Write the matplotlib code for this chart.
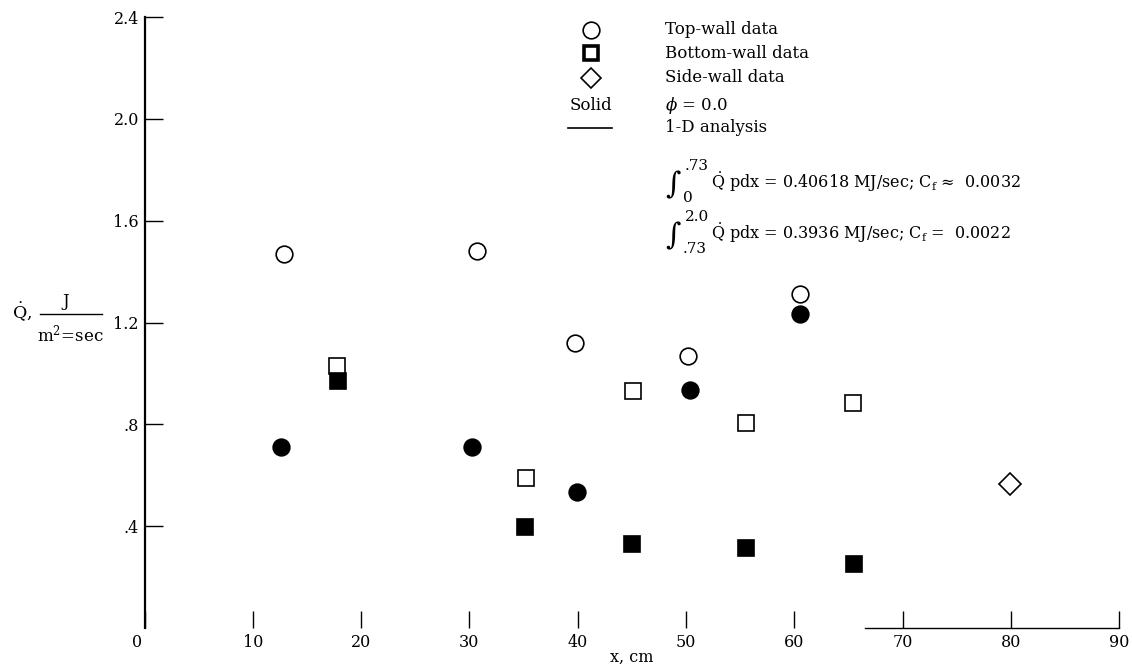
import matplotlib
matplotlib.use("Agg")
import matplotlib.pyplot as plt
from matplotlib.lines import Line2D
from matplotlib.transforms import ScaledTranslation

# ---------------- data ----------------
top_x = [12.9, 30.7, 39.75, 50.2, 60.5]
top_y = [1.47, 1.48, 1.12, 1.07, 1.31]
top_solid_x = [12.6, 30.2, 39.9, 50.4, 60.5]
top_solid_y = [0.71, 0.71, 0.535, 0.935, 1.235]
bot_x = [17.8, 35.2, 45.1, 55.5, 65.4]
bot_y = [1.03, 0.59, 0.93, 0.805, 0.885]
bot_solid_x = [17.9, 35.1, 45.0, 55.5, 65.5]
bot_solid_y = [0.97, 0.395, 0.33, 0.315, 0.25]
side_x = [79.9]
side_y = [0.565]

xticks = [0, 10, 20, 30, 40, 50, 60, 70, 80, 90]
xtick_labels = ["0", "10", "20", "30", "40", "50", "60", "70", "80", "90"]
yticks = [0.4, 0.8, 1.2, 1.6, 2.0, 2.4]
ytick_labels = [".4", ".8", "1.2", "1.6", "2.0", "2.4"]

legend_labels = ["Top-wall data", "Bottom-wall data", "Side-wall data",
                 r"$\phi$ = 0.0", "1-D analysis"]
int1_upper, int1_lower = ".73", "0"
int1_body = r"$\dot{\mathrm{Q}}$ pdx = 0.40618 MJ/sec; C$_\mathrm{f}$ ≈  0.0032"
int2_upper, int2_lower = "2.0", ".73"
int2_body = r"$\dot{\mathrm{Q}}$ pdx = 0.3936 MJ/sec; C$_\mathrm{f}$ =  0.0022"

# ---------------- style ----------------
plt.rcParams['font.family'] = ['DejaVu Serif']
plt.rcParams['mathtext.fontset'] = 'dejavuserif'

W, H = 1132, 666
fig = plt.figure(figsize=(W / 100, H / 100), dpi=100)
ax = fig.add_axes([144.5 / W, 38 / H, 974.8 / W, 611 / H])
ax.set_xlim(0, 90)
ax.set_ylim(0, 2.4)

def fx(px):
    return px / W

def fy(py):
    return 1 - py / H

ms_c, ms_s, ms_d = 12, 11.3, 10.7
ax.plot(top_x, top_y, 'o', ls='none', mfc='white', mec='black', ms=ms_c, mew=1.2, clip_on=False)
ax.plot(top_solid_x, top_solid_y, 'o', ls='none', mfc='black', mec='black', ms=ms_c, mew=1.2, clip_on=False)
ax.plot(bot_x, bot_y, 's', ls='none', mfc='white', mec='black', ms=ms_s, mew=1.2, clip_on=False)
ax.plot(bot_solid_x, bot_solid_y, 's', ls='none', mfc='black', mec='black', ms=ms_s, mew=1.2, clip_on=False)
ax.plot(side_x, side_y, 'D', ls='none', mfc='white', mec='black', ms=ms_d, mew=1.2, clip_on=False)

# axes / spines
for s in ('top', 'right'):
    ax.spines[s].set_visible(False)
ax.spines['left'].set_linewidth(1.6)
ax.spines['bottom'].set_linewidth(1.0)
ax.spines['bottom'].set_bounds(66.5, 90)

ax.set_yticks(yticks)
ax.set_yticklabels(ytick_labels)
ax.set_xticks(xticks)
ax.set_xticklabels(xtick_labels)
ax.tick_params(axis='y', direction='in', length=13, width=1.0, pad=4, labelsize=11.5)
ax.tick_params(axis='x', direction='in', length=12, width=1.0, pad=4, labelsize=11.5)
lbl0 = ax.get_xticklabels()[0]
lbl0.set_transform(lbl0.get_transform() + ScaledTranslation(-7 / 100, 0, fig.dpi_scale_trans))

ax.set_xlabel("x, cm", fontsize=11.5, labelpad=-1)

# y-axis label
fig.text(fx(12), fy(312), r"$\dot{\mathrm{Q}}$,", fontsize=12.5, ha='left', va='center')
fig.add_artist(Line2D([fx(40), fx(102)], [fy(314), fy(314)], transform=fig.transFigure,
                      color='black', lw=1.0))
fig.text(fx(66), fy(301), "J", fontsize=12, ha='center', va='center')
fig.text(fx(70), fy(334), r"m$^2$=sec", fontsize=12, ha='center', va='center')

# legend block
mk_x = fx(591)
rows = [30, 53, 78, 105, 128]
fig.add_artist(Line2D([mk_x], [fy(rows[0])], transform=fig.transFigure, marker='o',
                      ms=12, mfc='white', mec='black', mew=1.2, ls='none'))
fig.add_artist(Line2D([mk_x], [fy(rows[1])], transform=fig.transFigure, marker='s',
                      ms=10.5, mfc='white', mec='black', mew=2.6, ls='none'))
fig.add_artist(Line2D([mk_x], [fy(rows[2])], transform=fig.transFigure, marker='D',
                      ms=10.5, mfc='white', mec='black', mew=1.2, ls='none'))
fig.text(mk_x, fy(rows[3]), "Solid", fontsize=12, ha='center', va='center')
fig.add_artist(Line2D([fx(568), fx(612)], [fy(rows[4]), fy(rows[4])],
                      transform=fig.transFigure, color='black', lw=1.2))
for r, lab in zip(rows, legend_labels):
    fig.text(fx(665), fy(r), lab, fontsize=12, ha='left', va='center')

# integrals
for (up, lo, body, yc) in [(int1_upper, int1_lower, int1_body, 182),
                           (int2_upper, int2_lower, int2_body, 233)]:
    fig.text(fx(665), fy(yc + 3), r"$\int$", fontsize=15, ha='left', va='center')
    fig.text(fx(685), fy(yc - 16), up, fontsize=11, ha='left', va='center')
    fig.text(fx(683), fy(yc + 16), lo, fontsize=11, ha='left', va='center')
    fig.text(fx(711), fy(yc), body, fontsize=11.5, ha='left', va='center')

fig.savefig("out.png", dpi=100)
